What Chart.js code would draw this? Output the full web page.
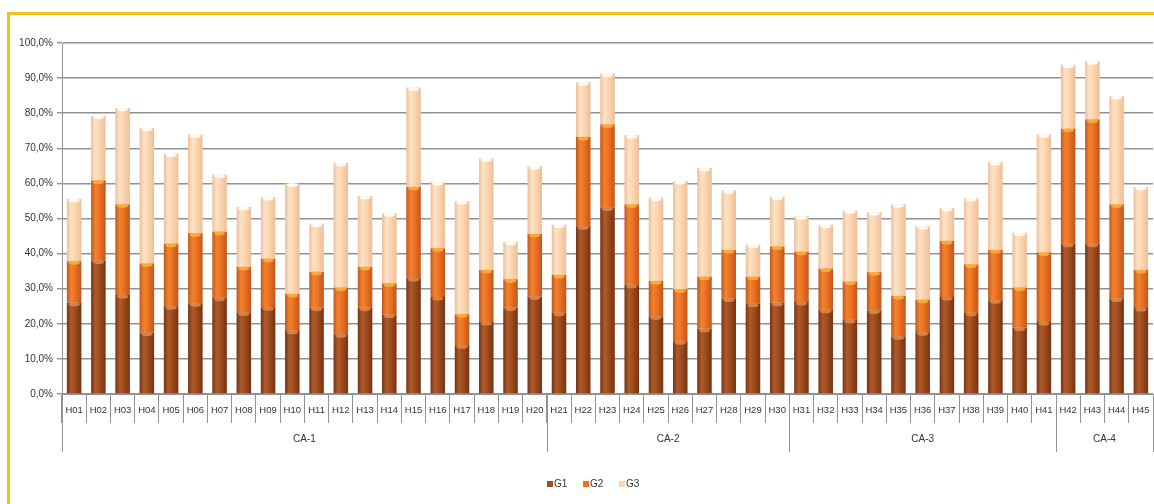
<!DOCTYPE html>
<html>
<head>
<meta charset="utf-8">
<script src="https://cdn.jsdelivr.net/npm/chart.js@4/dist/chart.umd.min.js"></script>
<style>
  html, body { margin: 0; padding: 0; background: #ffffff; }
  #wrap { position: relative; width: 1154px; height: 504px; overflow: hidden; }
  #frame { position: absolute; left: 7px; top: 12px; right: -10px; bottom: -10px;
           border-top: 3px solid #efc31e; border-left: 3px solid #efc31e; }
  #c { position: absolute; left: 0; top: 0; }
</style>
</head>
<body>
<div id="wrap">
  <div id="frame"></div>
  <canvas id="c" width="1154" height="504"></canvas>
</div>
<script>
// Categories (H01..H45) and their grouping into CA-1..CA-4
const categories = ['H01','H02','H03','H04','H05','H06','H07','H08','H09','H10',
  'H11','H12','H13','H14','H15','H16','H17','H18','H19','H20',
  'H21','H22','H23','H24','H25','H26','H27','H28','H29','H30',
  'H31','H32','H33','H34','H35','H36','H37','H38','H39','H40','H41',
  'H42','H43','H44','H45'];
const groupNames = ['CA-1', 'CA-2', 'CA-3', 'CA-4'];
const groupSizes = [20, 10, 11, 4];

// Series values in percent (stacked)
const g1 = [26.0, 38.0, 28.2, 17.5, 25.0, 25.8, 27.4, 23.2, 24.7, 18.0,
  24.6, 17.0, 24.6, 22.6, 33.0, 27.6, 13.9, 20.5, 24.6, 27.8,
  23.1, 47.8, 53.1, 31.1, 22.1, 15.0, 18.6, 27.2, 25.7, 26.0,
  26.2, 24.0, 21.1, 23.8, 16.4, 17.6, 27.6, 23.1, 26.7, 18.9, 20.5,
  42.8, 42.8, 27.2, 24.5];
const g2 = [11.8, 22.8, 25.8, 19.7, 17.8, 20.0, 18.8, 13.0, 13.8, 10.5,
  10.2, 13.3, 11.6, 8.9, 26.0, 13.9, 8.8, 14.8, 8.1, 17.8,
  10.8, 25.4, 23.7, 22.9, 10.1, 14.8, 14.8, 13.8, 7.7, 16.0,
  14.3, 11.7, 10.9, 10.9, 11.5, 9.2, 16.0, 13.8, 14.3, 11.4, 19.8,
  32.8, 35.4, 26.8, 10.8];
const g3 = [17.8, 18.5, 27.5, 38.6, 25.7, 28.1, 16.3, 17.1, 17.6, 31.5,
  13.7, 35.5, 20.2, 20.0, 28.3, 18.9, 32.2, 31.8, 10.6, 19.3,
  14.3, 15.6, 14.5, 19.7, 23.7, 30.9, 31.0, 17.0, 9.1, 14.2,
  10.1, 12.5, 20.3, 17.1, 26.1, 21.0, 9.4, 18.9, 25.1, 15.6, 33.7,
  18.2, 16.6, 30.9, 23.7];
const seriesNames = ['G1', 'G2', 'G3'];

// Y axis: 0..100 % in steps of 10
const yMin = 0, yMax = 100, yStep = 10;

const FONT = "'Liberation Sans', Arial, sans-serif";
const TEXT = '#333333';
const GRID = '#929292';
const BAR_PCT = 0.6;

// Cylinder-like horizontal shading for each bar
function cylinder(base, dark, light) {
  return function (ctx) {
    const ch = ctx.chart;
    const xs = ch.scales && ch.scales.x;
    if (ctx.type !== 'data' || !xs || !ch.chartArea) return base;
    const cx = xs.getPixelForValue(ctx.dataIndex);
    const w = (xs.width / categories.length) * BAR_PCT;
    const g = ch.ctx.createLinearGradient(cx - w / 2, 0, cx + w / 2, 0);
    g.addColorStop(0, dark);
    g.addColorStop(0.3, light);
    g.addColorStop(0.55, base);
    g.addColorStop(1, dark);
    return g;
  };
}

const palette = [
  { base: '#a04d20', dark: '#763311', light: '#ad5a2b', cap: '#e08a4a' },
  { base: '#ec7323', dark: '#c2561a', light: '#f2822f', cap: '#fbb33a' },
  { base: '#fdd6b0', dark: '#ecbf98', light: '#fee2c6', cap: '#ffffff' }
];

// Small elliptical caps on top of every stacked segment
const capsPlugin = {
  id: 'caps',
  afterDatasetsDraw(chart) {
    const c = chart.ctx;
    chart.data.datasets.forEach((ds, di) => {
      const meta = chart.getDatasetMeta(di);
      meta.data.forEach(bar => {
        const w = bar.width;
        c.save();
        c.fillStyle = palette[di].cap;
        c.globalAlpha = 0.85;
        c.beginPath();
        c.ellipse(bar.x, bar.y + 1.5, w / 2 - 1.5, 2, 0, 0, Math.PI * 2);
        c.fill();
        c.restore();
      });
    });
  }
};

// Second level of the category axis: group separators and names
const groupAxisPlugin = {
  id: 'groupAxis',
  afterDraw(chart) {
    const xs = chart.scales.x;
    const c = chart.ctx;
    const step = xs.getPixelForValue(1) - xs.getPixelForValue(0);
    const top = xs.top;
    c.save();
    c.strokeStyle = GRID;
    c.lineWidth = 1;
    c.fillStyle = TEXT;
    c.font = '10px ' + FONT;
    c.textAlign = 'center';
    c.textBaseline = 'middle';
    let start = 0;
    const edges = [];
    groupSizes.forEach((n, i) => {
      const left = xs.getPixelForValue(start) - step / 2;
      const right = xs.getPixelForValue(start + n - 1) + step / 2;
      edges.push(left);
      if (i === groupSizes.length - 1) edges.push(right);
      c.fillText(groupNames[i], (left + right) / 2, top + 45);
      start += n;
    });
    edges.forEach(x => {
      const px = Math.round(x) + 0.5;
      c.beginPath();
      c.moveTo(px, top);
      c.lineTo(px, top + 58);
      c.stroke();
    });
    c.restore();
  }
};

// Legend row under the axis
const legendPlugin = {
  id: 'seriesLegend',
  afterDraw(chart) {
    const c = chart.ctx;
    const y = 484;
    const startX = 547;
    const gap = 36;
    c.save();
    c.font = '10px ' + FONT;
    c.textBaseline = 'middle';
    c.textAlign = 'left';
    seriesNames.forEach((name, i) => {
      const x = startX + i * gap;
      c.fillStyle = palette[i].base;
      c.fillRect(x, y - 3, 6, 6);
      c.fillStyle = TEXT;
      c.fillText(name, x + 7, y + 0.5);
    });
    c.restore();
  }
};

const series = [g1, g2, g3];

new Chart(document.getElementById('c'), {
  type: 'bar',
  data: {
    labels: categories,
    datasets: series.map((vals, i) => ({
      label: seriesNames[i],
      data: vals,
      backgroundColor: cylinder(palette[i].base, palette[i].dark, palette[i].light),
      borderWidth: 0,
      barPercentage: BAR_PCT,
      categoryPercentage: 1.0
    }))
  },
  options: {
    responsive: false,
    animation: false,
    events: [],
    layout: { padding: { top: 43, right: 1, left: 0, bottom: 30 } },
    plugins: {
      legend: { display: false },
      tooltip: { enabled: false }
    },
    scales: {
      x: {
        stacked: true,
        offset: true,
        grid: {
          offset: true,
          drawOnChartArea: false,
          drawTicks: true,
          tickLength: 29,
          color: GRID,
          lineWidth: 1
        },
        border: { color: GRID, width: 1 },
        ticks: {
          autoSkip: false,
          maxRotation: 0,
          minRotation: 0,
          padding: -18,
          color: TEXT,
          font: { family: FONT, size: 9.5 }
        },
        afterFit(scale) { scale.height = 80; }
      },
      y: {
        stacked: true,
        min: yMin,
        max: yMax,
        ticks: {
          stepSize: yStep,
          padding: 4,
          color: TEXT,
          font: { family: FONT, size: 10 },
          callback: v => v.toFixed(1).replace('.', ',') + '%'
        },
        grid: {
          color: GRID,
          lineWidth: 1.4,
          tickLength: 5,
          drawTicks: true
        },
        border: { color: GRID, width: 1 },
        afterFit(scale) { scale.width = 62; }
      }
    }
  },
  plugins: [capsPlugin, groupAxisPlugin, legendPlugin]
});
</script>
</body>
</html>
